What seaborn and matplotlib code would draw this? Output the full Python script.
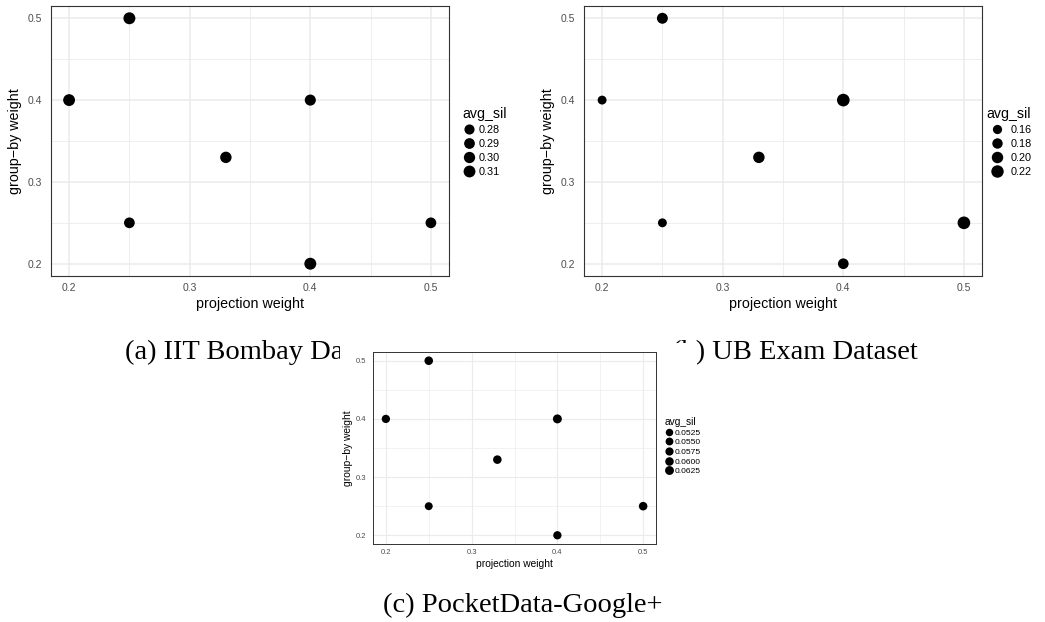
import numpy as np
import pandas as pd
import matplotlib
matplotlib.use("Agg")
import matplotlib.pyplot as plt
from matplotlib.lines import Line2D
from matplotlib.patches import Rectangle
from matplotlib.ticker import FixedLocator
import seaborn as sns

# Weight grid shared by all three datasets
proj_weight = [0.25, 0.20, 0.40, 0.33, 0.25, 0.50, 0.40]
groupby_weight = [0.50, 0.40, 0.40, 0.33, 0.25, 0.25, 0.20]

# Average silhouette per weight combination
sil_iit = [0.312, 0.310, 0.296, 0.302, 0.290, 0.290, 0.312]
sil_ub = [0.190, 0.155, 0.225, 0.200, 0.155, 0.225, 0.185]
sil_pocket = [0.0600, 0.0580, 0.0630, 0.0600, 0.0555, 0.0600, 0.0580]

# Legend breaks
breaks_iit = [0.28, 0.29, 0.30, 0.31]
breaks_ub = [0.16, 0.18, 0.20, 0.22]
breaks_pocket = [0.0525, 0.0550, 0.0575, 0.0600, 0.0625]

tick_values = [0.2, 0.3, 0.4, 0.5]
tick_labels = ["0.2", "0.3", "0.4", "0.5"]
minor_values = [0.25, 0.35, 0.45]

captions = ["(a) IIT Bombay Dataset", "(b) UB Exam Dataset", "(c) PocketData-Google+"]

sns.set_style("white")
plt.rcParams["font.family"] = ["Liberation Sans", "DejaVu Sans"]
plt.rcParams["text.color"] = "black"

W, H = 1045, 622
fig = plt.figure(figsize=(W / 100, H / 100), dpi=100)


def fbox(l, t, r, b):
    return [l / W, 1 - b / H, (r - l) / W, (b - t) / H]


def panel(ax, sil, norm, sizes, breaks, fmt, fs, leg):
    df = pd.DataFrame({"projection weight": proj_weight,
                       "group-by weight": groupby_weight,
                       "avg_sil": sil})
    sns.scatterplot(data=df, x="projection weight", y="group-by weight",
                    size="avg_sil", sizes=sizes, size_norm=norm,
                    color="black", linewidth=0, legend=False, ax=ax, zorder=3)
    ax.set_xlim(0.185, 0.515)
    ax.set_ylim(0.185, 0.515)
    for axis in (ax.xaxis, ax.yaxis):
        axis.set_major_locator(FixedLocator(tick_values))
        axis.set_minor_locator(FixedLocator(minor_values))
    ax.set_xticklabels(tick_labels)
    ax.set_yticklabels(tick_labels)
    ax.set_axisbelow(True)
    ax.grid(which="major", color="#EBEBEB", lw=fs["grid"])
    ax.grid(which="minor", color="#EBEBEB", lw=fs["grid"] * 0.55)
    for s in ax.spines.values():
        s.set_color("#333333")
        s.set_linewidth(fs["spine"])
    ax.tick_params(which="major", length=fs["tick_len"], width=fs["spine"],
                   color="#333333", labelcolor="#4D4D4D", labelsize=fs["tick"])
    ax.tick_params(axis="x", which="major", pad=fs["xpad"])
    ax.tick_params(axis="y", which="major", pad=fs["ypad"])
    ax.tick_params(which="minor", length=0)
    ax.set_xlabel("projection weight", fontsize=fs["label"], color="black",
                  labelpad=fs["xlpad"])
    ax.set_ylabel("group\u2212by weight", fontsize=fs["label"], color="black",
                  labelpad=fs["ylpad"])

    lo, hi = norm
    handles = []
    for b in breaks:
        area = sizes[0] + (b - lo) / (hi - lo) * (sizes[1] - sizes[0])
        handles.append(Line2D([], [], marker="o", ls="", color="black",
                              markeredgewidth=0, markersize=np.sqrt(area)))
    ax.legend(handles, [fmt.format(b) for b in breaks], title="avg_sil",
              loc="upper left", bbox_to_anchor=(leg["x"] / W, 1 - leg["y"] / H),
              bbox_transform=fig.transFigure, frameon=False, borderpad=0,
              borderaxespad=0, alignment="left", fontsize=fs["leg"],
              title_fontsize=fs["legtitle"], handlelength=leg["hl"],
              handletextpad=leg["htp"], labelspacing=leg["ls"])


big = dict(grid=1.1, spine=0.8, tick_len=3.0, tick=7.5, xpad=2.0, ypad=3.5,
           label=10.3, xlpad=3.0, ylpad=3.8, leg=7.8, legtitle=10.2)
small = dict(grid=0.8, spine=0.7, tick_len=2.2, tick=5.5, xpad=1.5, ypad=2.5,
             label=7.4, xlpad=2.0, ylpad=2.2, leg=6.1, legtitle=7.3)

ax_a = fig.add_axes(fbox(51, 6, 449, 276))
panel(ax_a, sil_iit, (0.275, 0.315), (50, 76), breaks_iit, "{:.2f}", big,
      dict(x=462, y=107, hl=1.3, htp=0.2, ls=0.36))

ax_b = fig.add_axes(fbox(584, 6, 982, 276))
panel(ax_b, sil_ub, (0.15, 0.23), (38, 86), breaks_ub, "{:.2f}", big,
      dict(x=986, y=107, hl=2.1, htp=0.2, ls=0.36))

# Sub-figure captions
cap_style = dict(ha="center", va="baseline", fontsize=20.5, color="black",
                 family=["Liberation Serif"], zorder=2)
fig.text(260 / W, 1 - 359 / H, captions[0], **cap_style)
fig.text(795 / W, 1 - 359 / H, captions[1], **cap_style)
fig.text(523 / W, 1 - 612 / H, captions[2], **cap_style)

# Third sub-figure sits on its own white canvas
fig.add_artist(Rectangle((340 / W, 1 - 575 / H), (697 - 340) / W, (575 - 343) / H,
                         transform=fig.transFigure, facecolor="white",
                         edgecolor="none", zorder=4))
ax_c = fig.add_axes(fbox(373, 352, 656, 544))
ax_c.set_zorder(5)
panel(ax_c, sil_pocket, (0.050, 0.065), (26, 44), breaks_pocket, "{:.4f}", small,
      dict(x=665, y=417, hl=1.05, htp=0.1, ls=0.2))

fig.savefig("out.png", dpi=100)
